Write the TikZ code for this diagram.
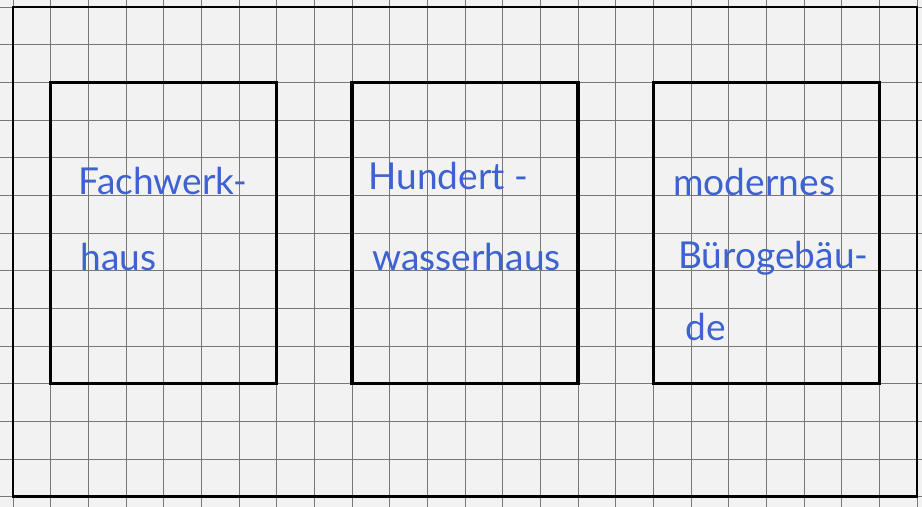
\documentclass[tikz,border=0pt]{standalone}
\usepackage{fontspec}
\setmainfont{Lato}
\definecolor{paper}{RGB}{242,242,242}
\definecolor{gridgray}{RGB}{120,120,120}
\definecolor{ink}{RGB}{62,98,210}
\tikzset{
  gridline/.style={draw=gridgray, line width=0.35pt},
  outerframe/.style={draw=black, line width=1pt},
  housebox/.style={draw=black, line width=1.2pt, minimum width=3cm, minimum height=4cm, inner sep=0pt, outer sep=0pt},
  hand/.style={text=ink, font=\fontsize{14}{16}\selectfont, anchor=base west, inner sep=0pt}
}
\begin{document}
\begin{tikzpicture}[x=0.5cm,y=0.5cm]
  \useasboundingbox (-0.345,-0.27) rectangle (24.133,13.186);
  \clip (-0.345,-0.27) rectangle (24.133,13.186);
  \fill[paper] (-0.345,-0.27) rectangle (24.133,13.186);
  \draw[gridline, step=0.5cm] (-1,-1) grid (25,14);
  \draw[outerframe] (0,0) rectangle (24,13);
  \node[housebox] (b1) at (4,7) {};
  \node[housebox] (b2) at (12,7) {};
  \node[housebox] (b3) at (20,7) {};
  \node[hand] (t1a) at (1.73,8.03) {Fachwerk-};
  \node[hand] (t1b) at (1.78,6.0) {haus};
  \node[hand] (t2a) at (9.42,8.16) {Hundert -};
  \node[hand] (t2b) at (9.53,6.0) {wasserhaus};
  \node[hand] (t3a) at (17.52,8.0) {modernes};
  \node[hand] (t3b) at (17.65,6.05) {Bürogebäu-};
  \node[hand] (t3c) at (17.84,4.14) {de};
\end{tikzpicture}
\end{document}
